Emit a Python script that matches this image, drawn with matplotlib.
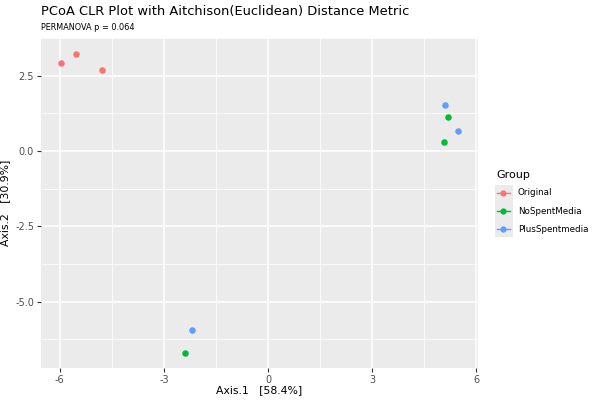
import numpy as np
import matplotlib.pyplot as plt
from matplotlib.lines import Line2D
from matplotlib.patches import Rectangle

groups = ["Original", "NoSpentMedia", "PlusSpentmedia"]
colors = ["#F8766D", "#00BA38", "#619CFF"]
axis1 = {
    "Original": [-5.97, -5.54, -4.79],
    "NoSpentMedia": [5.19, 5.08, -2.39],
    "PlusSpentmedia": [5.11, 5.48, -2.19],
}
axis2 = {
    "Original": [2.93, 3.22, 2.70],
    "NoSpentMedia": [1.13, 0.30, -6.71],
    "PlusSpentmedia": [1.53, 0.66, -5.95],
}
xticks = [-6, -3, 0, 3, 6]
yticks = [2.5, 0.0, -2.5, -5.0]
ytick_labels = ["2.5", "0.0", "-2.5", "-5.0"]

W, H = 600, 400
fig = plt.figure(figsize=(6, 4), dpi=100)
ax = fig.add_axes([41 / W, 1 - 368 / H, (478 - 41) / W, (368 - 38) / H])
ax.set_facecolor("#EBEBEB")

for g, c in zip(groups, colors):
    ax.scatter(axis1[g], axis2[g], s=22, color=c, zorder=3, linewidths=0)

# zakresy jak w ggplot (5% zapasu)
allx = np.concatenate([axis1[g] for g in groups])
ally = np.concatenate([axis2[g] for g in groups])
dx = (allx.max() - allx.min()) * 0.05
dy = (ally.max() - ally.min()) * 0.05
ax.set_xlim(allx.min() - dx, allx.max() + dx)
ax.set_ylim(ally.min() - dy, ally.max() + dy)

ax.set_xticks(xticks)
ax.set_xticklabels([str(t) for t in xticks])
ax.set_yticks(yticks)
ax.set_yticklabels(ytick_labels)
ax.set_xticks([-4.5, -1.5, 1.5, 4.5], minor=True)
ax.set_yticks([3.75, 1.25, -1.25, -3.75, -6.25], minor=True)
ax.grid(which="major", color="white", linewidth=1.1)
ax.grid(which="minor", color="white", linewidth=0.55)
ax.set_axisbelow(True)
for s in ax.spines.values():
    s.set_visible(False)
ax.tick_params(which="major", length=3, color="#333333", labelcolor="#4D4D4D",
               labelsize=7, width=0.8, pad=2)
ax.tick_params(which="minor", length=0)

ax.set_xlabel("Axis.1   [58.4%]", fontsize=7.8)
ax.xaxis.set_label_coords(0.5, -(390 - 368) / 330)
ax.xaxis.label.set_va("center")
ax.set_ylabel("Axis.2   [30.9%]", fontsize=7.8)
ax.yaxis.set_label_coords((10 - 41) / 437, 0.5)

fig.text(41 / W, 1 - 12 / H, "PCoA CLR Plot with Aitchison(Euclidean) Distance Metric",
         fontsize=9.4, va="center", ha="left")
fig.text(41 / W, 1 - 27 / H, "PERMANOVA p = 0.064", fontsize=5.9, va="center", ha="left")

# legenda rysowana recznie
fig.patches.append(Rectangle((495 / W, 1 - 237 / H), 18 / W, 52 / H,
                             transform=fig.transFigure, facecolor="#EBEBEB",
                             edgecolor="none", zorder=0))
fig.text(496 / W, 1 - 175 / H, "Group", fontsize=8, va="center", ha="left")
for i, (g, c) in enumerate(zip(groups, colors)):
    yy = 1 - (193 + 18 * i) / H
    fig.lines.append(Line2D([497 / W, 510 / W], [yy, yy], transform=fig.transFigure,
                            color=c, linewidth=1))
    fig.lines.append(Line2D([503.5 / W], [yy], transform=fig.transFigure, color=c,
                            marker="o", markersize=4.5, markeredgewidth=0))
    fig.text(518 / W, yy, g, fontsize=6.3, va="center", ha="left")

fig.savefig("out.png", dpi=100)
